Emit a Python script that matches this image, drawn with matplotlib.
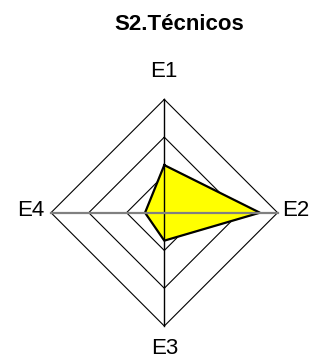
import numpy as np
import matplotlib
matplotlib.use("Agg")
import matplotlib.pyplot as plt

plt.rcParams['font.family'] = ['Liberation Sans', 'DejaVu Sans']

# data
labels = ['E1', 'E2', 'E3', 'E4']
values = [1.26, 2.53, 0.74, 0.51]
rings = [1, 2, 3]
rmax = 3

W, H = 320, 359
cx, cy = 164.3, 212.7  # centre in pixels
rpx = 113.3
unit = rpx / rmax

fig = plt.figure(figsize=(W / 100, H / 100), dpi=100)
ax = fig.add_axes([0, 0, 1, 1])
ax.set_xlim(-cx / unit, (W - cx) / unit)
ax.set_ylim(-(H - cy) / unit, cy / unit)
ax.axis('off')

# angles: E1 top, then clockwise
ang = np.pi / 2 - np.arange(len(labels)) * 2 * np.pi / len(labels)

# grid rings
for r in rings:
    xs = np.append(r * np.cos(ang), r * np.cos(ang[0]))
    ys = np.append(r * np.sin(ang), r * np.sin(ang[0]))
    ax.plot(xs, ys, color='black', lw=0.8, zorder=1)

# data polygon
v = np.array(values)
px = np.append(v * np.cos(ang), v[0] * np.cos(ang[0]))
py = np.append(v * np.sin(ang), v[0] * np.sin(ang[0]))
ax.fill(px, py, color='#ffff00', zorder=2)
ax.plot(px, py, color='black', lw=1.6, zorder=3)

# spokes
ax.plot([0, 0], [-rmax, rmax], color='black', lw=1.0, zorder=4)
ax.plot([-rmax, rmax], [0, 0], color='#808080', lw=1.6, zorder=4)

# axis labels
ax.text(0, rmax + 28 / unit, labels[0], ha='center', va='center', fontsize=16)
ax.text(rmax + 5 / unit, 2 / unit, labels[1], ha='left', va='center', fontsize=16)
ax.text(0, -rmax - 23 / unit, labels[2], ha='center', va='center', fontsize=16)
ax.text(-rmax - 7 / unit, 2 / unit, labels[3], ha='right', va='center', fontsize=16)

fig.text(179 / W, 1 - 25 / H, 'S2.Técnicos', ha='center', va='center',
         fontsize=16, fontweight='bold')

fig.savefig('out.png', dpi=100)
